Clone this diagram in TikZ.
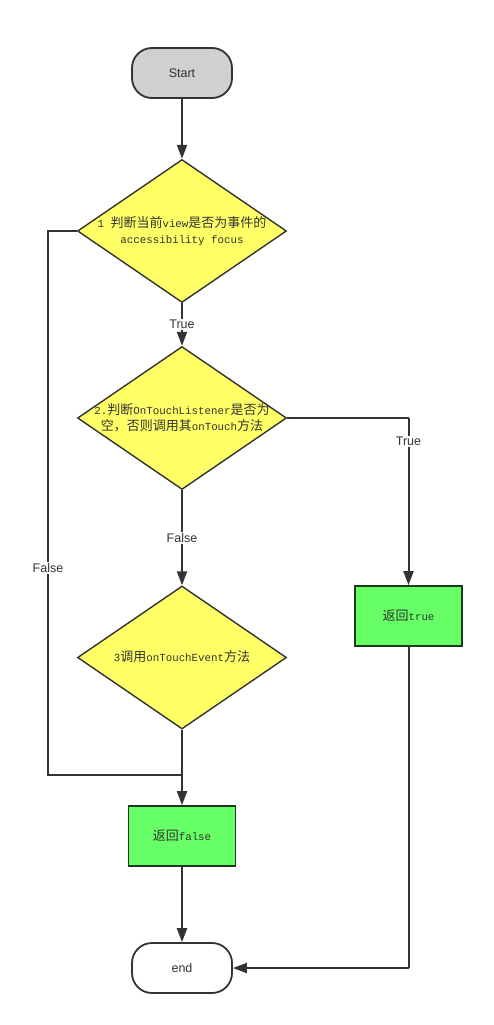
\documentclass[tikz,border=0pt]{standalone}
\usepackage{fontspec}
\setmainfont{Liberation Sans}
\newfontfamily\cjkfont{Noto Sans CJK SC}
\newfontfamily\monofont{Liberation Mono}
\usetikzlibrary{shapes.geometric,arrows.meta}
\definecolor{ln}{HTML}{333333}
\definecolor{startgray}{HTML}{D0D0D0}
\definecolor{dyellow}{HTML}{FFFF66}
\definecolor{bgreen}{HTML}{66FF66}
\definecolor{bgreenedge}{HTML}{1E3A1E}
\newcommand\zhtxt[1]{{\cjkfont #1}}
\newcommand\mntxt[1]{{\monofont\fontsize{10.8}{16}\selectfont #1}}
\begin{document}
\begin{tikzpicture}[x=1pt,y=-1pt,
  term/.style={draw=ln, line width=1.8pt, rounded corners=20pt, minimum width=100pt, minimum height=50pt, inner sep=0pt, font=\fontsize{12.5}{15}\selectfont, text=ln},
  decision/.style={draw=ln, line width=1.4pt, fill=dyellow, shape=diamond, minimum width=209pt, minimum height=143pt, inner sep=0pt, aspect=1.46},
  dtext/.style={align=center, inner sep=0pt, text=ln, font=\cjkfont\fontsize{13}{16}\selectfont},
  result/.style={draw=bgreenedge, line width=1.6pt, fill=bgreen, minimum width=107pt, minimum height=60pt, inner sep=0pt, text=ln, font=\cjkfont\fontsize{13}{16}\selectfont},
  flow/.style={draw=ln, line width=2pt, -{Triangle[length=14pt,width=10pt]}},
  plain/.style={draw=ln, line width=2pt},
  lbl/.style={fill=white, inner sep=1.5pt, text=ln, font=\fontsize{12.5}{15}\selectfont}
]
\useasboundingbox (0,0) rectangle (494,1025);

\node[term, fill=startgray] (start) at (182,73) {Start};
\node[decision] (d1) at (182,231) {};
\node[dtext] (d1t) at (182,231) {\mntxt{1 }\zhtxt{判断当前}\mntxt{view}\zhtxt{是否为事件的}\\\mntxt{accessibility focus}};
\node[decision] (d2) at (182,418) {};
\node[dtext] (d2t) at (182,418) {\mntxt{2.}\zhtxt{判断}\mntxt{OnTouchListener}\zhtxt{是否为}\\\zhtxt{空，否则调用其}\mntxt{onTouch}\zhtxt{方法}};
\node[decision] (d3) at (182,657.5) {};
\node[dtext] (d3t) at (182,657) {\mntxt{3}\zhtxt{调用}\mntxt{onTouchEvent}\zhtxt{方法}};
\node[result] (rtrue) at (408.5,616) {\zhtxt{返回}\mntxt{true}};
\node[result] (rfalse) at (182,836) {\zhtxt{返回}\mntxt{false}};
\node[term, fill=white] (end) at (182,968) {end};

\coordinate (fl1) at (48,231);
\coordinate (fl2) at (48,775);
\coordinate (fl3) at (182,775);
\coordinate (tr1) at (408.5,418);
\coordinate (tr2) at (408.5,968);

\draw[flow] (start) -- (d1);
\draw[flow] (d1) -- node[lbl] (lt1) {True} (d2);
\draw[flow] (d2) -- node[lbl] (lf1) {False} (d3);
\draw[flow] (d3) -- (rfalse);
\draw[plain] (d1.west) -- (fl1) -- node[lbl, pos=0.62] (lf2) {False} (fl2) -- (fl3);
\draw[plain] (d2.east) -- (tr1);
\draw[flow] (tr1) -- node[lbl, pos=0.14] (lt2) {True} (rtrue.north);
\draw[flow] (rfalse) -- (end);
\draw[plain] (rtrue.south) -- (tr2);
\draw[flow] (tr2) -- (end.east);
\end{tikzpicture}
\end{document}
